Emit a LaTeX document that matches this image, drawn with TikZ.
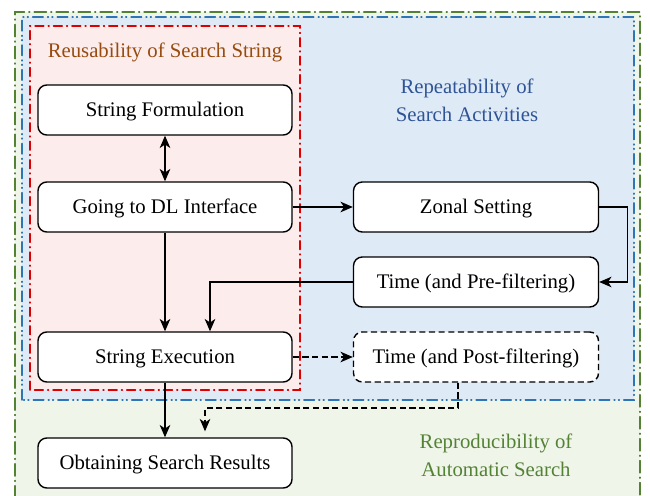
\documentclass[tikz,border=0pt]{standalone}
\usepackage{fontspec}
\setmainfont{Liberation Serif}
\usepackage{tikz}
\usetikzlibrary{arrows.meta,positioning,calc}

\definecolor{zonegreen}{RGB}{84,130,53}
\definecolor{zoneblue}{RGB}{46,117,182}
\definecolor{zonered}{RGB}{222,0,0}
\definecolor{fillgreen}{RGB}{240,245,234}
\definecolor{fillblue}{RGB}{222,234,246}
\definecolor{fillred}{RGB}{253,236,236}
\definecolor{textbrown}{RGB}{150,75,15}
\definecolor{textblue}{RGB}{47,84,150}

\tikzset{
  stage/.style={draw, thick, fill=white, rounded corners=5pt,
                minimum width=5.08cm, minimum height=1.0cm,
                text height=1.9ex, text depth=0.3ex},
  substage/.style={stage, minimum width=4.9cm},
  tip/.tip={Stealth[length=7pt,width=6pt,inset=2pt]},
  flow/.style={-tip, semithick},
  optional/.style={dash pattern=on 3.5pt off 2pt},
  zone/.style={thick, line cap=round},
}

\begin{document}
\begin{tikzpicture}[font=\fontsize{11.8}{14}\selectfont]
  \useasboundingbox (0,0) rectangle (13,9.9);

  % nested zones
  \begin{scope}
    \clip (0,0) rectangle (13,9.9);
    \draw[zone, zonegreen, fill=fillgreen,
          dash pattern=on 7pt off 2.5pt on 0.5pt off 2.5pt]
      (0.3,-0.5) rectangle (12.8,9.66);
  \end{scope}
  \draw[zone, zoneblue, fill=fillblue,
        dash pattern=on 6pt off 2.5pt on 0.5pt off 2pt on 0.5pt off 2.5pt]
    (0.44,1.9) rectangle (12.68,9.56);
  \draw[zone, zonered, fill=fillred,
        dash pattern=on 5pt off 2.5pt on 0.5pt off 2.5pt]
    (0.6,2.1) rectangle (6.0,9.38);

  % zone labels
  \node[text=textbrown] (lreuse) at (3.3,8.86) {Reusability of Search String};
  \node[text=textblue, align=center] (lrepeat) at (9.34,7.9)
    {Repeatability of\\[2pt]Search Activities};
  \node[text=zonegreen, align=center] (lreprod) at (9.92,0.8)
    {Reproducibility of\\[2pt]Automatic Search};

  % search steps
  \node[stage] (form) at (3.3,7.7)  {String Formulation};
  \node[stage] (dl)   at (3.3,5.76) {Going to DL Interface};
  \node[stage] (exec) at (3.3,2.76) {String Execution};
  \node[stage] (res)  at (3.3,0.64) {Obtaining Search Results};

  \node[substage] (zonal) at (9.52,5.76) {Zonal Setting};
  \node[substage] (pre)   at (9.52,4.26) {Time (and Pre-filtering)};
  \node[substage, optional] (post) at (9.52,2.76) {Time (and Post-filtering)};

  % connectors
  \draw[flow, tip-tip] (form) -- (dl);
  \draw[flow] (dl) -- (zonal);
  \draw[flow] (zonal.east) -- ++(0.56,0) |- (pre.east);
  \draw[flow] (pre.west) -| ([xshift=0.9cm]exec.north);
  \draw[flow] (dl) -- (exec);
  \draw[flow, optional] (exec) -- (post);
  \draw[flow] (exec) -- (res);
  \draw[flow, optional] ([xshift=-0.36cm]post.south) |- (4.1,1.74)
    -- ([xshift=0.8cm,yshift=0.12cm]res.north);
\end{tikzpicture}
\end{document}
